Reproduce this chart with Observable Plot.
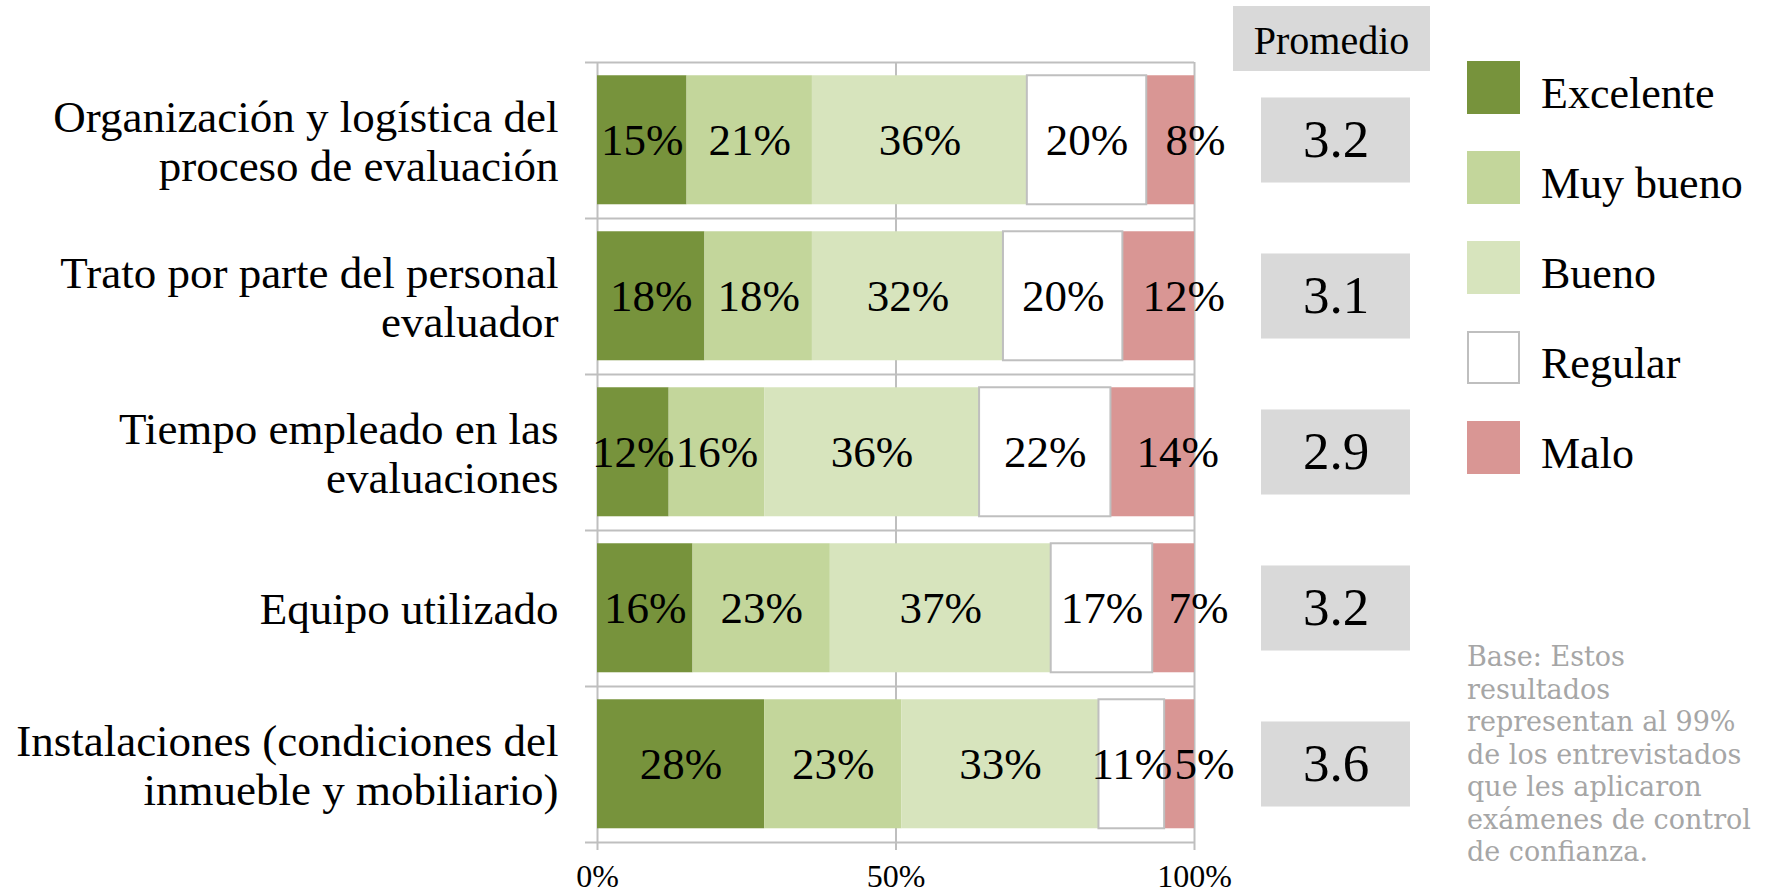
<!DOCTYPE html>
<html>
<head>
<meta charset="utf-8">
<script src="https://cdn.jsdelivr.net/npm/d3@7"></script>
<script src="https://cdn.jsdelivr.net/npm/@observablehq/plot@0.6"></script>
<style>
  html, body { margin: 0; padding: 0; background: #ffffff; }
  #wrap { position: relative; width: 1765px; height: 896px; overflow: hidden; font-family: "Liberation Serif", serif; color: #000; }
  #main { position: absolute; left: 0; top: 0; }
  #prom { position: absolute; left: 1240px; top: 0; }
  #promHead { position: absolute; left: 1233px; top: 6px; width: 197px; height: 65px; background: #D9D9D9;
              font-size: 40px; line-height: 61px; padding-top: 4px; box-sizing: border-box; text-align: center; }
  #legend { position: absolute; left: 1467px; top: 61px; }
  .item { position: relative; height: 53px; margin-bottom: 37px; }
  .sw { position: absolute; left: 0; top: 0; width: 53px; height: 53px; box-sizing: border-box; }
  .lab { position: absolute; left: 74px; top: 6px; font-size: 44px; line-height: 53px; white-space: nowrap; }
  #note { position: absolute; left: 1467px; top: 641px; font-family: "DejaVu Serif", serif; font-size: 27px;
          line-height: 32.5px; color: #A6A6A6; white-space: nowrap; }
</style>
</head>
<body>
<div id="wrap">
  <div id="main"></div>
  <div id="promHead">Promedio</div>
  <div id="prom"></div>
  <div id="legend"></div>
  <div id="note"></div>
</div>
<script>
// ---- data ----
const categories = [
  "Organización y logística del\nproceso de evaluación",
  "Trato por parte del personal\nevaluador",
  "Tiempo empleado en las\nevaluaciones",
  "Equipo utilizado",
  "Instalaciones (condiciones del\ninmueble y mobiliario)"
];
const ratings = ["Excelente", "Muy bueno", "Bueno", "Regular", "Malo"];
const ratingColors = ["#77933C", "#C3D69B", "#D7E4BD", "#FFFFFF", "#D99694"];
const excelente = [15, 18, 12, 16, 28];
const muyBueno  = [21, 18, 16, 23, 23];
const bueno     = [36, 32, 36, 37, 33];
const regular   = [20, 20, 22, 17, 11];
const malo      = [8, 12, 14, 7, 5];
const promedio  = [3.2, 3.1, 2.9, 3.2, 3.6];
const xTicks    = [0, 0.5, 1];
const promedioTitle = "Promedio";
const noteLines = ["Base: Estos", "resultados", "representan al 99%", "de los entrevistados",
                   "que les aplicaron", "exámenes de control", "de confianza."];

// ---- build table ----
const series = [excelente, muyBueno, bueno, regular, malo];
const rows = [];
categories.forEach((c, i) => {
  let acc = 0;
  ratings.forEach((r, j) => {
    const v = series[j][i];
    rows.push({cat: c, i, rating: r, value: v, x1: acc / 100, x2: (acc + v) / 100});
    acc += v;
  });
});

const GRID = "#BFBFBF";
const n = categories.length;
const barTop = 0.085, barBottom = 0.912;

const main = Plot.plot({
  width: 1240, height: 896,
  marginLeft: 597, marginRight: 46, marginTop: 62, marginBottom: 54,
  x: {domain: [0, 1]},
  y: {domain: [0, n], reverse: true, axis: null},
  color: {domain: ratings, range: ratingColors},
  style: {fontFamily: "Liberation Serif", background: "white", color: "black", overflow: "visible"},
  marks: [
    Plot.ruleX(xTicks, {y1: 0, y2: n, stroke: GRID, strokeWidth: 2, insetBottom: -8}),
    Plot.ruleY(d3.range(n + 1), {x1: 0, x2: 1, stroke: GRID, strokeWidth: 2, insetLeft: -12}),
    Plot.rectX(rows, {x1: "x1", x2: "x2", y1: d => d.i + barTop, y2: d => d.i + barBottom, fill: "rating"}),
    Plot.rectX(rows, {filter: d => d.rating === "Regular", x1: "x1", x2: "x2",
      y1: d => d.i + barTop, y2: d => d.i + barBottom, fill: "none", stroke: GRID, strokeWidth: 2}),
    Plot.text(rows, {filter: d => d.rating !== "Malo", x: d => (d.x1 + d.x2) / 2, y: d => d.i + 0.5,
      text: d => d.value + "%", fontSize: 45, fill: "black"}),
    Plot.text(rows, {filter: d => d.rating === "Malo", x: d => (d.x1 + d.x2) / 2, y: d => d.i + 0.5,
      text: d => d.value + "%", fontSize: 45, fill: "black", dx: 25}),
    Plot.text(categories, {x: () => 0, y: (d, i) => i + 0.5, text: d => d, textAnchor: "end",
      dx: -39, fontSize: 45, lineHeight: 1.11, fill: "black"}),
    Plot.axisX(xTicks, {tickFormat: d3.format(".0%"), tickSize: 0, tickPadding: 22, fontSize: 32, fill: "black"})
  ]
});
document.getElementById("main").appendChild(main);

const prom = Plot.plot({
  width: 200, height: 896,
  marginLeft: 21, marginRight: 30, marginTop: 62, marginBottom: 54,
  x: {domain: [0, 1], axis: null},
  y: {domain: [0, n], reverse: true, axis: null},
  style: {fontFamily: "Liberation Serif", background: "transparent", color: "black"},
  marks: [
    Plot.rect(promedio, {x1: () => 0, x2: () => 1, y1: (d, i) => i + 0.5 - 0.2725, y2: (d, i) => i + 0.5 + 0.2725, fill: "#D9D9D9"}),
    Plot.text(promedio, {x: () => 0.5, y: (d, i) => i + 0.5, text: d => d.toFixed(1), fontSize: 53, fill: "black"})
  ]
});
document.getElementById("prom").appendChild(prom);
document.getElementById("promHead").textContent = promedioTitle;

// legend
const legend = document.getElementById("legend");
ratings.forEach((r, j) => {
  const item = document.createElement("div");
  item.className = "item";
  const sw = document.createElement("div");
  sw.className = "sw";
  sw.style.background = ratingColors[j];
  if (r === "Regular") sw.style.border = "2px solid " + GRID;
  const lab = document.createElement("div");
  lab.className = "lab";
  lab.textContent = r;
  item.appendChild(sw); item.appendChild(lab);
  legend.appendChild(item);
});

// note
const note = document.getElementById("note");
noteLines.forEach((t, k) => {
  if (k) note.appendChild(document.createElement("br"));
  note.appendChild(document.createTextNode(t));
});
</script>
</body>
</html>
